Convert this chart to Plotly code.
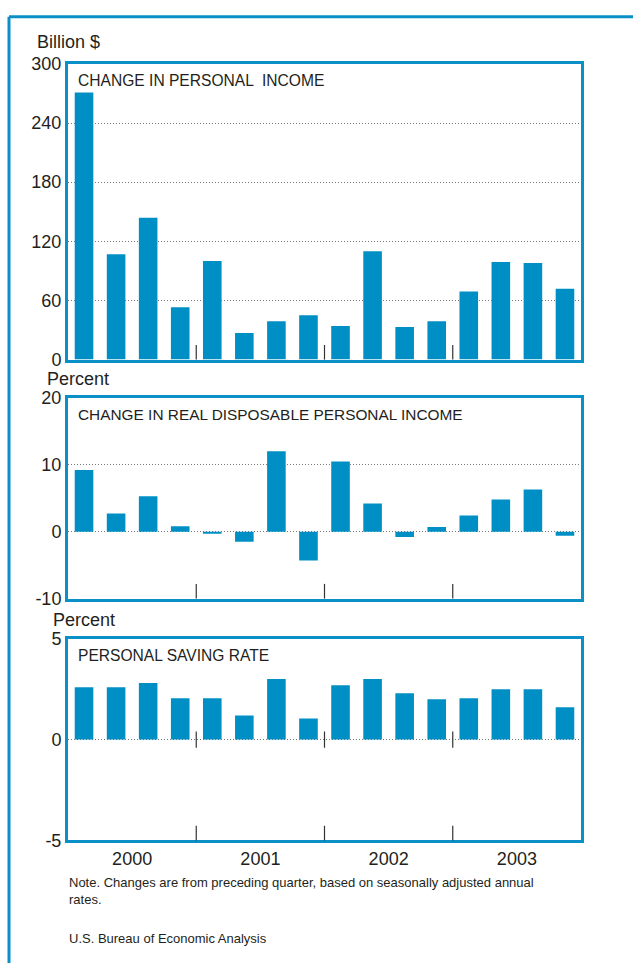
import plotly.graph_objects as go

quarters = ["2000 Q1", "2000 Q2", "2000 Q3", "2000 Q4",
            "2001 Q1", "2001 Q2", "2001 Q3", "2001 Q4",
            "2002 Q1", "2002 Q2", "2002 Q3", "2002 Q4",
            "2003 Q1", "2003 Q2", "2003 Q3", "2003 Q4"]
years = ["2000", "2001", "2002", "2003"]

personal_income_change = [271, 107, 144, 53, 100, 27, 39, 45, 34, 110, 33, 39, 69, 99, 98, 72]
real_dpi_change = [9.2, 2.7, 5.3, 0.8, -0.3, -1.5, 12.0, -4.3, 10.5, 4.2, -0.8, 0.7, 2.4, 4.8, 6.3, -0.6]
saving_rate = [2.6, 2.6, 2.8, 2.05, 2.05, 1.2, 3.0, 1.05, 2.7, 3.0, 2.3, 2.0, 2.05, 2.5, 2.5, 1.6]

panel_titles = ["CHANGE IN PERSONAL  INCOME",
                "CHANGE IN REAL DISPOSABLE PERSONAL INCOME",
                "PERSONAL SAVING RATE"]
unit_labels = ["Billion $", "Percent", "Percent"]
y_ticks = [[0, 60, 120, 180, 240, 300], [-10, 0, 10, 20], [-5, 0, 5]]
y_tick_text = [["0", "60", "120", "180", "240", "300"], ["-10", "0", "10", "20"], ["-5", "0", "5"]]
y_ranges = [[0, 300], [-10, 20], [-5, 5]]
note_text = "Note. Changes are from preceding quarter, based on seasonally adjusted annual<br>rates."
source_text = "U.S. Bureau of Economic Analysis"

W, H = 633, 968
BLUE = "#0a8fc6"
BAR = "#008fc5"
TXT = "#231f20"
FONT = "Liberation Sans, Arial, Helvetica, sans-serif"

def py(p):
    return 1 - p / H

def px(p):
    return p / W

x_idx = list(range(len(quarters)))
boxes = [(55, 357), (396, 601), (642, 848)]
x_dom = [px(68), px(581)]
series = [personal_income_change, real_dpi_change, saving_rate]
title_sizes = [15.6, 15.4, 15.6]

fig = go.Figure()
layout = dict(width=W, height=H, margin=dict(l=0, r=0, t=0, b=0),
              paper_bgcolor="white", plot_bgcolor="white", showlegend=False,
              font=dict(family=FONT, color=TXT, size=18))

year_centers = [sum(x_idx[i*4:(i+1)*4]) / 4 for i in range(len(years))]
year_bounds = [x_idx[i*4] - 0.5 for i in range(1, len(years))]

shapes = []
annotations = []
for k in range(3):
    n = "" if k == 0 else str(k + 1)
    xa, ya = "x" + n, "y" + n
    fig.add_trace(go.Bar(x=x_idx, y=series[k], marker=dict(color=BAR, line=dict(width=0)),
                         width=0.58, xaxis=xa, yaxis=ya, hoverinfo="skip"))
    top, bot = boxes[k]
    layout["xaxis" + n] = dict(domain=x_dom, range=[-0.5, 15.5], anchor=ya,
                               showline=True, mirror=True, linecolor=BLUE, linewidth=3,
                               showgrid=False, zeroline=False, ticks="",
                               tickvals=year_centers if k == 2 else [],
                               ticktext=years if k == 2 else [],
                               showticklabels=(k == 2),
                               tickfont=dict(size=18, family=FONT, color=TXT))
    layout["yaxis" + n] = dict(domain=[py(bot), py(top)], range=y_ranges[k], anchor=xa,
                               showline=True, mirror=True, linecolor=BLUE, linewidth=3,
                               showgrid=True, gridcolor="#777777", griddash="1px,2px", gridwidth=1,
                               zeroline=False, ticks="", tickvals=y_ticks[k], ticktext=y_tick_text[k],
                               tickfont=dict(size=18, family=FONT, color=TXT))
    for b in year_bounds:
        shapes.append(dict(type="line", xref=xa, yref=ya + " domain", x0=b, x1=b,
                           y0=0, y1=15 / (bot - top), line=dict(color="#333333", width=1.2)))
    annotations.append(dict(text=panel_titles[k], xref="paper", yref="paper",
                            x=px(76), y=py(top + 17), xanchor="left", yanchor="middle",
                            showarrow=False, font=dict(family=FONT, size=title_sizes[k], color=TXT)))

for b in year_bounds:
    shapes.append(dict(type="line", xref="x3", yref="y3", x0=b, x1=b, y0=-0.4, y1=0.4,
                       line=dict(color="#333333", width=1.2)))

for lab, (xx, yy) in zip(unit_labels, [(35, 33), (45, 377), (51, 623)]):
    annotations.append(dict(text=lab, xref="paper", yref="paper", x=px(xx), y=py(yy),
                            xanchor="left", yanchor="middle", showarrow=False,
                            font=dict(family=FONT, size=18, color=TXT)))

annotations.append(dict(text=note_text, xref="paper", yref="paper", x=px(67), y=py(881),
                        xanchor="left", yanchor="top", align="left", showarrow=False,
                        font=dict(family=FONT, size=13, color=TXT)))
annotations.append(dict(text=source_text, xref="paper", yref="paper", x=px(67), y=py(948),
                        xanchor="left", yanchor="middle", align="left", showarrow=False,
                        font=dict(family=FONT, size=13, color=TXT)))

shapes.append(dict(type="line", xref="paper", yref="paper", x0=px(9), x1=px(9), y0=py(7), y1=py(H + 5),
                   line=dict(color=BLUE, width=3)))
shapes.append(dict(type="line", xref="paper", yref="paper", x0=px(9), x1=px(W + 5), y0=py(7), y1=py(7),
                   line=dict(color=BLUE, width=3)))

layout["shapes"] = shapes
layout["annotations"] = annotations
fig.update_layout(**layout)
fig.write_html("out.html", config={"displayModeBar": False, "staticPlot": True},
               post_script="document.body.style.margin='0';")
